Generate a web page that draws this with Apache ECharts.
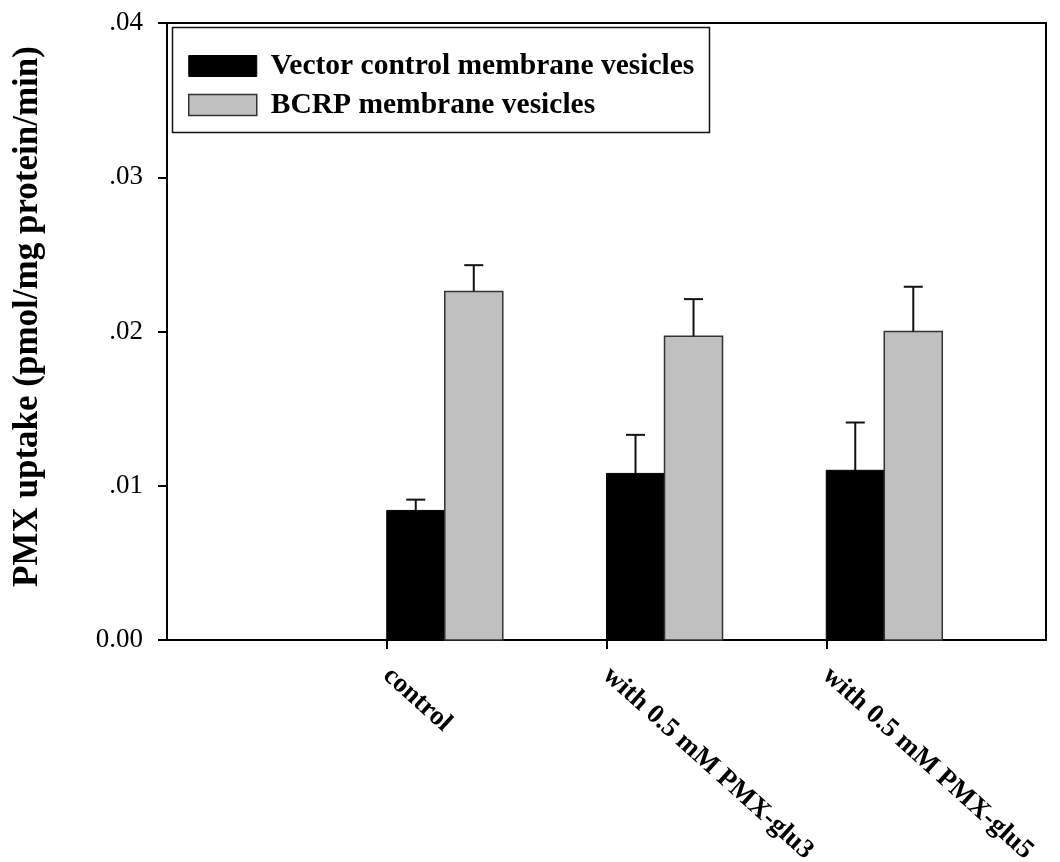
<!DOCTYPE html>
<html>
<head>
<meta charset="utf-8">
<script src="https://cdn.jsdelivr.net/npm/echarts@6/dist/echarts.min.js"></script>
<style>
  html, body { margin: 0; padding: 0; background: #fff; }
  #chart { width: 1060px; height: 862px; }
</style>
</head>
<body>
<div id="chart"></div>
<script>
// Treatment groups along the x axis
const categories = ['control', 'with 0.5 mM PMX-glu3', 'with 0.5 mM PMX-glu5'];
const seriesNames = ['Vector control membrane vesicles', 'BCRP membrane vesicles'];

// PMX uptake (pmol/mg protein/min), mean and upper error
const vectorMeans = [0.0084, 0.0108, 0.0110];
const vectorErr   = [0.0007, 0.0025, 0.0031];
const bcrpMeans   = [0.0226, 0.0197, 0.0200];
const bcrpErr     = [0.0017, 0.0024, 0.0029];

// Y axis range and tick step
const yMin = 0, yMax = 0.04, yStep = 0.01;

const FONT = '"Liberation Serif", "Times New Roman", serif';
const BAR_W = 0.264;      // bar width in x-axis units (one group slot = 1 unit)
const CAP_PX = 19;        // error-bar cap width in pixels

// The category axis has blank slots at both ends so groups sit on ticks 1..3
const axisCats = [''].concat(categories, ['']);

function barData(means) {
  return means.map((v, i) => [i + 1, v]);
}
function errData(means, errs) {
  return means.map((v, i) => [i + 1, v, errs[i]]);
}

function barRenderer(slot) {
  return function (params, api) {
    const x = api.value(0) + slot * BAR_W;
    const base = api.coord([x, 0]);
    const top = api.coord([x + BAR_W, api.value(1)]);
    return {
      type: 'rect',
      shape: { x: base[0], y: top[1], width: top[0] - base[0], height: base[1] - top[1] },
      style: api.style()
    };
  };
}

function errRenderer(slot) {
  return function (params, api) {
    const xc = api.value(0) + slot * BAR_W + BAR_W / 2;
    const v = api.value(1), e = api.value(2);
    const lo = api.coord([xc, v]);
    const hi = api.coord([xc, v + e]);
    const st = { stroke: '#111', lineWidth: 2 };
    return {
      type: 'group',
      children: [
        { type: 'line', shape: { x1: lo[0], y1: lo[1], x2: hi[0], y2: hi[1] }, style: st },
        { type: 'line', shape: { x1: hi[0] - CAP_PX / 2, y1: hi[1], x2: hi[0] + CAP_PX / 2, y2: hi[1] }, style: st }
      ]
    };
  };
}

const chart = echarts.init(document.getElementById('chart'), null, { renderer: 'canvas' });

chart.setOption({
  animation: false,
  backgroundColor: '#fff',
  grid: {
    left: 167, top: 23, right: 14, bottom: 222,
    containLabel: false,
    outerBoundsMode: 'none',
    show: true, borderColor: '#000', borderWidth: 2, backgroundColor: 'transparent'
  },
  graphic: [{
    type: 'rect', z: 1,
    shape: { x: 172.5, y: 27.5, width: 537, height: 105 },
    style: { fill: '#fff', stroke: '#111', lineWidth: 1.5 }
  }],
  legend: {
    z: 10,
    orient: 'vertical',
    left: 188, top: 51,
    padding: 0,
    itemWidth: 68, itemHeight: 21, itemGap: 9,
    icon: 'rect',
    textStyle: { fontFamily: FONT, fontWeight: 'bold', fontSize: 29.5, color: '#000', padding: [0, 0, 0, 9] },
    data: [
      { name: seriesNames[0], itemStyle: { color: '#000', borderColor: '#000', borderWidth: 1 } },
      { name: seriesNames[1], itemStyle: { color: '#c0c0c0', borderColor: '#333', borderWidth: 1.5 } }
    ]
  },
  xAxis: [{
    type: 'category',
    data: axisCats,
    boundaryGap: false,
    axisLine: { lineStyle: { color: '#000', width: 2 } },
    axisTick: {
      show: true, inside: false, length: 9,
      interval: function (idx) { return idx >= 1 && idx <= categories.length; },
      lineStyle: { color: '#000', width: 2 }
    },
    axisLabel: {
      interval: 0, rotate: -42, margin: 32,
      fontFamily: FONT, fontWeight: 'bold', fontSize: 27, color: '#000'
    },
    splitLine: { show: false }
  }, {
    type: 'value', min: 0, max: categories.length + 1, show: false
  }],
  yAxis: {
    type: 'value',
    min: yMin, max: yMax, interval: yStep,
    name: 'PMX uptake (pmol/mg protein/min)',
    nameLocation: 'middle',
    nameGap: 122,
    nameTextStyle: { fontFamily: FONT, fontWeight: 'bold', fontSize: 35, color: '#000', padding: [0, 0, 0, 30] },
    axisLine: { show: true, lineStyle: { color: '#000', width: 2 } },
    axisTick: { show: true, inside: false, length: 9, lineStyle: { color: '#000', width: 2 } },
    axisLabel: {
      margin: 24, fontFamily: FONT, fontSize: 27, color: '#000',
      formatter: function (v) { return v === 0 ? '0.00' : v.toFixed(2).replace(/^0/, ''); }
    },
    splitLine: { show: false }
  },
  series: [{
    name: seriesNames[0], type: 'custom', xAxisIndex: 1, z: 3,
    itemStyle: { color: '#000', borderColor: '#000', borderWidth: 1 },
    renderItem: barRenderer(0), data: barData(vectorMeans)
  }, {
    name: seriesNames[1], type: 'custom', xAxisIndex: 1, z: 3,
    itemStyle: { color: '#c0c0c0', borderColor: '#333', borderWidth: 1.5 },
    renderItem: barRenderer(1), data: barData(bcrpMeans)
  }, {
    name: 'vectorErr', type: 'custom', xAxisIndex: 1, z: 4,
    renderItem: errRenderer(0), data: errData(vectorMeans, vectorErr)
  }, {
    name: 'bcrpErr', type: 'custom', xAxisIndex: 1, z: 4,
    renderItem: errRenderer(1), data: errData(bcrpMeans, bcrpErr)
  }]
});
</script>
</body>
</html>
